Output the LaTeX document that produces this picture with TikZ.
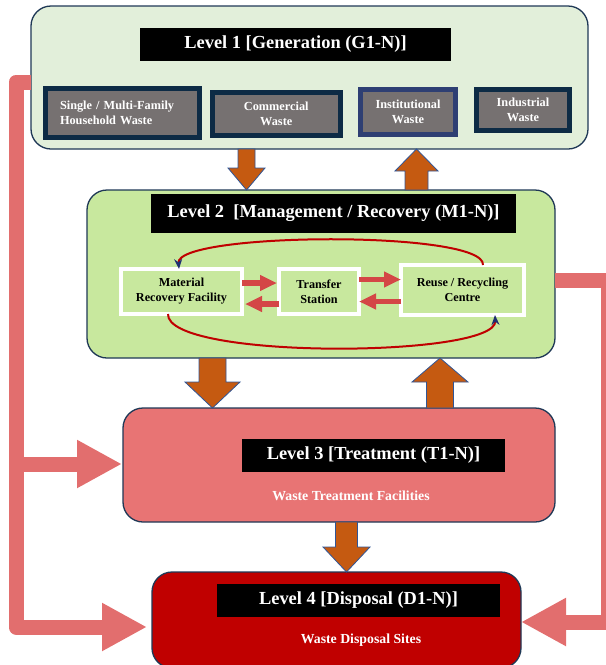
\documentclass[tikz,border=0pt]{standalone}
\usepackage{fontspec}
\setmainfont{Liberation Serif}
\usetikzlibrary{calc,arrows.meta}

\definecolor{genfill}{RGB}{226,239,218}
\definecolor{mgmtfill}{RGB}{200,232,158}
\definecolor{treatfill}{RGB}{232,116,116}
\definecolor{dispfill}{RGB}{192,0,0}
\definecolor{tierframe}{RGB}{31,56,86}
\definecolor{srcframe}{RGB}{13,43,69}
\definecolor{srcframeb}{RGB}{46,63,115}
\definecolor{srcfill}{RGB}{118,113,113}
\definecolor{flowfill}{RGB}{197,90,17}
\definecolor{flowline}{RGB}{47,85,151}
\definecolor{backred}{RGB}{226,110,110}
\definecolor{loopred}{RGB}{192,0,0}
\definecolor{looptip}{RGB}{31,47,111}
\definecolor{linkred}{RGB}{212,70,70}

\tikzset{
  tierbox/.style={draw=tierframe, line width=1.3pt, rounded corners=20pt,
    anchor=north west, outer sep=0pt, inner sep=0pt},
  tiertitle/.style={fill=black, text=white, inner sep=0pt, outer sep=0pt,
    font=\bfseries\fontsize{18.4}{22}\selectfont},
  tiercaption/.style={text=white, inner sep=0pt,
    font=\bfseries\fontsize{13.8}{16}\selectfont},
  sourcebox/.style={draw=srcframe, line width=5pt, fill=srcfill, text=white,
    align=center, inner sep=0pt, outer sep=0pt,
    font=\bfseries\fontsize{12.3}{14.5}\selectfont},
  facilitybox/.style={draw=white, line width=4pt, fill=mgmtfill, text=black,
    align=center, inner sep=0pt, outer sep=0pt,
    font=\bfseries\fontsize{12.2}{15}\selectfont},
  % block arrow: shaft half width, head half width, head length
  flowarrow/.style n args={3}{draw=flowline, fill=flowfill, line width=0.8pt,
    line join=miter,
    to path={
      ($(\tikztostart)!#1!90:(\tikztotarget)$)
      -- ($(\tikztotarget)!#3!(\tikztostart)!#1!90:(\tikztotarget)$)
      -- ($(\tikztotarget)!#3!(\tikztostart)!#2!90:(\tikztotarget)$)
      -- (\tikztotarget)
      -- ($(\tikztotarget)!#3!(\tikztostart)!#2!-90:(\tikztotarget)$)
      -- ($(\tikztotarget)!#3!(\tikztostart)!#1!-90:(\tikztotarget)$)
      -- ($(\tikztostart)!#1!-90:(\tikztotarget)$)
      -- cycle}},
  returnflow/.style={draw=backred, line width=15pt, line join=round,
    -{Triangle[length=45pt 0, width=45pt 0]}},
  linkarrow/.style={draw=linkred, line width=5.5pt,
    -{Triangle[length=17pt 0, width=15pt 0]}},
  cycleline/.style={draw=loopred, line width=2pt,
    -{Stealth[length=10pt, width=8pt, color=looptip]}},
}

\begin{document}
\begin{tikzpicture}[x=1pt,y=-1pt]
\useasboundingbox (0,0) rectangle (606,665);
\clip (0,0) rectangle (606,665);

% the four tiers
\node[tierbox, fill=genfill, minimum width=557pt, minimum height=143pt] (l1) at (31,6) {};
\node[tierbox, fill=mgmtfill, minimum width=468pt, minimum height=168pt] (l2) at (87,190) {};
\node[tierbox, fill=treatfill, minimum width=432pt, minimum height=114pt] (l3) at (123,408) {};
\node[tierbox, fill=dispfill, minimum width=369pt, minimum height=96pt] (l4) at (152,572) {};

% tier titles
\node[tiertitle, minimum width=311pt, minimum height=33pt] (t1) at (295.5,44.5) {Level 1 [Generation (G1-N)]};
\node[tiertitle, minimum width=365pt, minimum height=39pt] (t2) at (333.5,213.5) {Level 2~ [Management / Recovery (M1-N)]};
\node[tiertitle, minimum width=263pt, minimum height=33pt] (t3) at (373.5,455.5) {Level 3 [Treatment (T1-N)]};
\node[tiertitle, minimum width=283pt, minimum height=33pt] (t4) at (358.5,600.5) {Level 4 [Disposal (D1-N)]};

\node[tiercaption] (c3) at (351,496) {Waste Treatment Facilities};
\node[tiercaption] (c4) at (361,640) {Waste Disposal Sites};

% waste sources
\node[sourcebox, minimum width=154.5pt, minimum height=49pt, text width=124.5pt, align=left] (s1) at (122.25,113) {Single / Multi-Family\\Household Waste};
\node[sourcebox, minimum width=127.5pt, minimum height=43pt] (s2) at (276.25,114) {Commercial\\Waste};
\node[sourcebox, draw=srcframeb, minimum width=95pt, minimum height=45pt] (s3) at (408,112) {Institutional\\Waste};
\node[sourcebox, minimum width=93pt, minimum height=41pt] (s4) at (523,110) {Industrial\\Waste};

% management facilities
\node[facilitybox, minimum width=121pt, minimum height=45pt] (mrf) at (181.5,291.5) {Material\\Recovery Facility};
\node[facilitybox, minimum width=80pt, minimum height=45pt] (ts) at (319,291.5) {Transfer\\Station};
\node[facilitybox, minimum width=123pt, minimum height=50pt] (rr) at (462.5,290) {Reuse / Recycling\\Centre};

% flows between tiers
\coordinate (f1a) at (l1.south -| 246.5,0);
\coordinate (f1b) at (l2.north -| 246.5,0);
\draw[flowarrow={8.5pt}{18.5pt}{22pt}] (f1a) to (f1b);
\coordinate (f2a) at (l2.north -| 416.5,0);
\coordinate (f2b) at (l1.south -| 416.5,0);
\draw[flowarrow={11.5pt}{21.5pt}{22pt}] (f2a) to (f2b);
\coordinate (f3a) at (l2.south -| 212.5,0);
\coordinate (f3b) at (l3.north -| 212.5,0);
\draw[flowarrow={13.5pt}{27.5pt}{26pt}] (f3a) to (f3b);
\coordinate (f4a) at (l3.north -| 440,0);
\coordinate (f4b) at (l2.south -| 440,0);
\draw[flowarrow={13.5pt}{28pt}{24pt}] (f4a) to (f4b);
\coordinate (f5a) at (l3.south -| 346.5,0);
\coordinate (f5b) at (l4.north -| 346.5,0);
\draw[flowarrow={11pt}{23.5pt}{25pt}] (f5a) to (f5b);

% bypass routes
\coordinate (lb1) at (16,82);
\coordinate (lb2) at (16,627);
\coordinate (lb3) at (16,464);
\draw[returnflow, shorten >=5pt] (l1.west |- lb1) -- (lb1) -- (lb2) -- (l4.west |- lb2);
\draw[returnflow, shorten >=1pt] (lb3) -- (l3.west |- lb3);
\coordinate (rb1) at (608.5,280.5);
\coordinate (rb2) at (608.5,622);
\draw[returnflow] (l2.east |- rb1) -- (rb1) -- (rb2) -- (l4.east |- rb2);

% links between facilities
\draw[linkarrow, shorten >=2pt] (mrf.east |- 0,283) -- (ts.west |- 0,283);
\draw[linkarrow, shorten >=3pt] (ts.west |- 0,304) -- (mrf.east |- 0,304);
\draw[linkarrow] (ts.east |- 0,279.5) -- (rr.west |- 0,279.5);
\draw[linkarrow] (rr.west |- 0,301.5) -- (ts.east |- 0,301.5);

% recovery cycle
\draw[cycleline] (rr.north -| 483,0) .. controls (486,230) and (176,232) .. (mrf.north -| 179,0);
\draw[cycleline] (mrf.south -| 168,0) .. controls (166,360) and (497,358) .. (rr.south -| 495,0);
\end{tikzpicture}
\end{document}
